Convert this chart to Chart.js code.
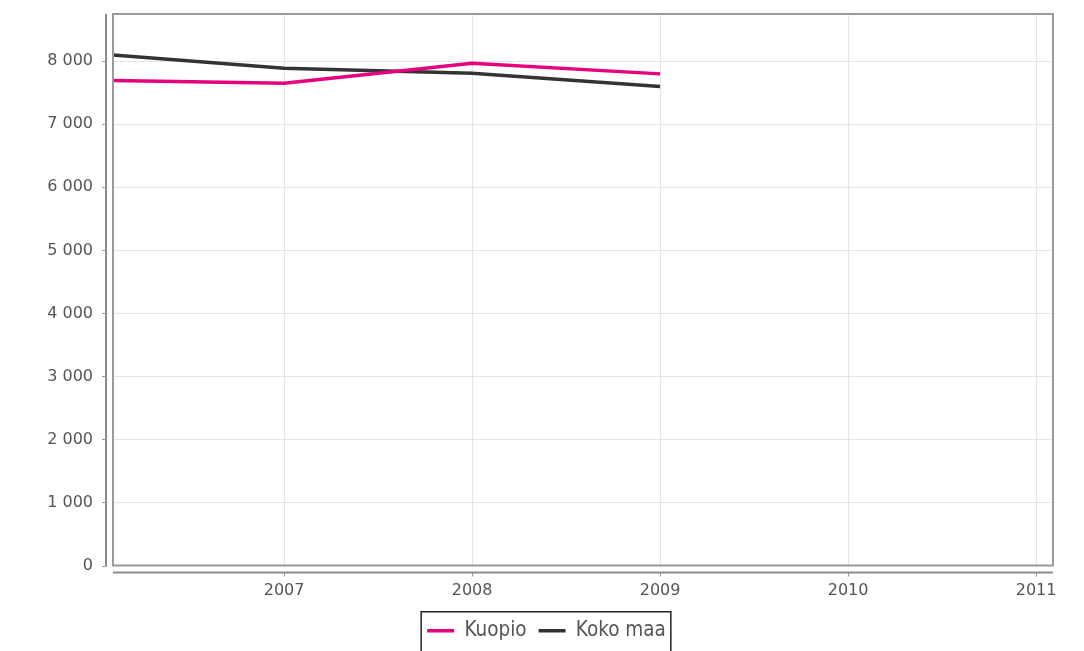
<!DOCTYPE html>
<html>
<head>
<meta charset="utf-8">
<script src="https://cdn.jsdelivr.net/npm/chart.js@4/dist/chart.umd.min.js"></script>
<style>
  body { margin: 0; background: #fff; }
  canvas { display: block; }
</style>
</head>
<body>
<canvas id="myChart" width="1084" height="651"></canvas>
<script>
const years = [2006, 2007, 2008, 2009];
const kuopio = [7700, 7650, 7970, 7800];
const kokoMaa = [8120, 7890, 7810, 7600];
const yearTicks = [2007, 2008, 2009, 2010, 2011];
const valueTicks = [0, 1000, 2000, 3000, 4000, 5000, 6000, 7000, 8000];

function toPoints(vals) {
  return years.map((y, i) => ({ x: y, y: vals[i] }));
}

function fmt(v) {
  return String(v).replace(/\B(?=(\d{3})+(?!\d))/g, ' ');
}

// frame, offset axis lines, tick marks and the box round the legend
const framePlugin = {
  id: 'frame',
  afterDraw(chart) {
    const c = chart.ctx;
    const a = chart.chartArea;
    c.save();
    c.strokeStyle = '#9a9a9a';
    c.lineWidth = 2;
    c.strokeRect(a.left, a.top, a.right - a.left, a.bottom - a.top);

    c.strokeStyle = '#8c8c8c';
    c.lineWidth = 2;
    c.beginPath();
    c.moveTo(a.left - 7, a.top);
    c.lineTo(a.left - 7, a.bottom + 1);
    c.moveTo(a.left, a.bottom + 7);
    c.lineTo(a.right, a.bottom + 7);
    c.stroke();

    c.lineWidth = 1;
    c.strokeStyle = '#999';
    c.beginPath();
    const ys = chart.scales.y;
    valueTicks.forEach(v => {
      const p = Math.round(ys.getPixelForValue(v)) + 0.5;
      c.moveTo(a.left - 11, p);
      c.lineTo(a.left - 7, p);
    });
    const xs = chart.scales.x;
    yearTicks.forEach(v => {
      const p = Math.round(xs.getPixelForValue(v)) + 0.5;
      c.moveTo(p, a.bottom + 7);
      c.lineTo(p, a.bottom + 11);
    });
    c.stroke();

    const boxes = chart.legend.legendHitBoxes;
    if (boxes && boxes.length) {
      const l = Math.min(...boxes.map(b => b.left)) - 6;
      const r = Math.max(...boxes.map(b => b.left + b.width)) + 5;
      const mid = boxes[0].top + boxes[0].height / 2;
      c.strokeStyle = '#222';
      c.lineWidth = 1.5;
      c.strokeRect(l, mid - 19, r - l, 60);
    }
    c.restore();
  }
};

const ctx = document.getElementById('myChart');

new Chart(ctx, {
  type: 'line',
  data: {
    datasets: [{
      label: 'Kuopio',
      data: toPoints(kuopio),
      borderColor: '#e5007d',
      backgroundColor: '#e5007d',
      borderWidth: 3.5,
      pointRadius: 0,
      tension: 0
    }, {
      label: 'Koko maa',
      data: toPoints(kokoMaa),
      borderColor: '#333333',
      backgroundColor: '#333333',
      borderWidth: 3.5,
      pointRadius: 0,
      tension: 0
    }]
  },
  options: {
    responsive: false,
    animation: false,
    layout: {
      padding: { top: 14, right: 31, left: 40, bottom: 0 }
    },
    scales: {
      x: {
        type: 'linear',
        min: 2006.09,
        max: 2011.09,
        afterBuildTicks: (s) => { s.ticks = yearTicks.map(v => ({ value: v })); },
        afterFit: (s) => { s.height = 43; s.paddingLeft = 0; s.paddingRight = 0; },
        grid: { color: '#e4e4e4', drawTicks: false },
        border: { display: false },
        ticks: {
          padding: 16,
          maxRotation: 0,
          color: '#555',
          font: { family: 'DejaVu Sans', size: 16 },
          callback: (v) => String(v)
        }
      },
      y: {
        min: 0,
        max: 8750,
        afterBuildTicks: (s) => { s.ticks = valueTicks.map(v => ({ value: v })); },
        afterFit: (s) => { s.width = 73; s.paddingTop = 0; s.paddingBottom = 0; },
        grid: { color: '#e4e4e4', drawTicks: false },
        border: { display: false },
        ticks: {
          padding: 20,
          color: '#555',
          font: { family: 'DejaVu Sans', size: 16 },
          callback: (v) => fmt(v)
        }
      }
    },
    plugins: {
      tooltip: { enabled: false },
      legend: {
        position: 'bottom',
        labels: {
          color: '#555',
          font: { family: "'DejaVu Sans Condensed', 'DejaVu Sans', sans-serif", size: 20.5 },
          usePointStyle: true,
          pointStyle: 'line',
          pointStyleWidth: 27,
          boxHeight: 19,
          padding: 12
        }
      }
    }
  },
  plugins: [framePlugin]
});
</script>
</body>
</html>
